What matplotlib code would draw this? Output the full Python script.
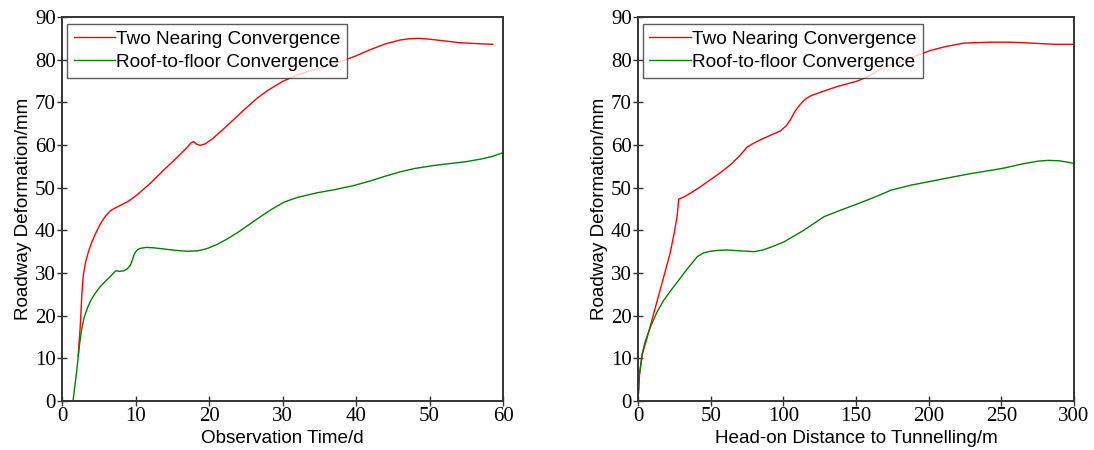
import matplotlib
matplotlib.use("Agg")
import matplotlib.pyplot as plt

# Left panel: observation time (d) vs deformation (mm)
t_two = [2.2, 2.5, 2.7, 2.9, 3.2, 3.6, 4.0, 4.5, 5.0, 5.5, 6.0, 6.6, 7.2, 8.0, 9.0, 10.0, 11.0,
         12.0, 13.0, 14.0, 15.0, 16.0, 17.0, 17.5, 17.9, 18.3, 18.8, 19.5, 20.5, 22.0, 23.5, 25.0,
         26.5, 28.0, 30.0, 32.0, 34.0, 36.0, 38.0, 40.0, 42.0, 44.0, 46.0, 47.2, 48.5, 50.0,
         52.0, 54.0, 56.0, 58.6]
d_two = [10.5, 18.0, 25.0, 29.5, 32.5, 35.0, 37.0, 39.0, 40.8, 42.3, 43.5, 44.6, 45.2, 45.9, 46.8, 48.0, 49.5,
         51.0, 52.7, 54.4, 56.0, 57.7, 59.4, 60.4, 60.8, 60.2, 59.9, 60.3, 61.5, 63.8, 66.2, 68.6,
         70.9, 72.8, 74.9, 76.4, 77.5, 78.5, 79.6, 80.9, 82.4, 83.7, 84.6, 84.9, 85.0, 84.8,
         84.4, 84.0, 83.8, 83.6]

t_roof = [1.5, 2.0, 2.4, 2.7, 3.0, 3.5, 4.0, 4.5, 5.2, 6.0, 6.7, 7.3, 7.8, 8.4, 8.9, 9.3, 9.6,
          9.8, 10.0, 10.3, 10.7, 11.5, 12.5, 14.0, 15.5, 17.0, 18.5, 19.7, 21.0, 22.5, 24.0,
          25.5, 27.0, 28.5, 30.2, 32.0, 34.7, 37.0, 39.7, 42.0, 44.0, 46.0, 48.0, 50.6, 53.0,
          55.0, 57.0, 58.5, 60.0]
d_roof = [0.0, 7.0, 13.5, 17.0, 19.5, 22.0, 23.8, 25.2, 26.8, 28.2, 29.4, 30.5, 30.4, 30.5, 31.0, 31.8, 33.2,
          34.3, 34.9, 35.5, 35.8, 36.0, 35.9, 35.6, 35.3, 35.1, 35.2, 35.7, 36.6, 38.0, 39.6,
          41.4, 43.2, 44.9, 46.6, 47.7, 48.8, 49.5, 50.5, 51.6, 52.7, 53.7, 54.5, 55.2, 55.7,
          56.1, 56.7, 57.3, 58.2]

# Right panel: head-on distance (m) vs deformation (mm)
x_two = [0.0, 1.0, 3.0, 6.0, 10.0, 14.0, 18.0, 22.0, 25.0, 27.0, 28.0, 32.0, 36.0, 42.0, 50.0,
         57.0, 64.0, 70.0, 75.0, 80.0, 86.0, 92.0, 98.0, 102.0, 105.0, 108.0, 111.8, 115.0,
         118.6, 125.0, 137.0, 151.0, 158.0, 164.8, 172.0, 183.0, 192.0, 201.6, 212.0, 224.6,
         243.0, 255.0, 264.0, 275.0, 287.0, 300.0]
y_two = [0.0, 6.0, 11.0, 14.5, 19.5, 24.5, 29.5, 34.5, 39.5, 43.5, 47.3, 47.9, 48.7, 50.0, 51.9,
         53.6, 55.5, 57.5, 59.5, 60.5, 61.5, 62.4, 63.3, 64.5, 66.0, 67.9, 69.6, 70.7,
         71.5, 72.3, 73.7, 75.0, 76.0, 77.4, 78.5, 79.8, 81.0, 82.2, 83.1, 83.9,
         84.1, 84.1, 84.0, 83.8, 83.6, 83.6]

x_roof = [0.0, 1.0, 2.8, 5.0, 8.5, 13.0, 17.7, 23.0, 28.0, 34.0, 40.7, 45.0, 50.0, 55.0, 61.0,
          70.0, 80.0, 86.0, 91.0, 100.5, 107.0, 114.0, 121.0, 128.0, 140.0, 151.0, 163.0,
          174.0, 188.0, 201.6, 215.0, 229.0, 240.0, 252.0, 265.0, 275.0, 282.0, 290.0, 300.0]
y_roof = [0.0, 6.3, 11.0, 14.0, 17.3, 20.8, 23.6, 26.1, 28.3, 31.0, 33.8, 34.7, 35.1, 35.3, 35.4,
          35.2, 35.0, 35.4, 36.0, 37.3, 38.6, 40.0, 41.6, 43.2, 44.8, 46.2, 47.8,
          49.4, 50.6, 51.5, 52.4, 53.3, 53.9, 54.6, 55.6, 56.2, 56.4, 56.3, 55.7]

series_labels = ["Two Nearing Convergence", "Roof-to-floor Convergence"]
y_ticks = [0, 10, 20, 30, 40, 50, 60, 70, 80, 90]

sans = "Liberation Sans"
serif = "Liberation Serif"
plt.rcParams["font.family"] = [serif, "DejaVu Serif"]

fig = plt.figure(figsize=(10.94, 4.5), dpi=100)
ax1 = fig.add_axes([62 / 1094, 1 - 401 / 450, 441 / 1094, 384 / 450])
ax2 = fig.add_axes([638 / 1094, 1 - 401 / 450, 436 / 1094, 384 / 450])

panels = [
    (ax1, t_two, d_two, t_roof, d_roof, (0, 60), [0, 10, 20, 30, 40, 50, 60], "Observation Time/d"),
    (ax2, x_two, y_two, x_roof, y_roof, (0, 300), [0, 50, 100, 150, 200, 250, 300],
     "Head-on Distance to Tunnelling/m"),
]

for ax, xa, ya, xb, yb, xlim, xt, xlabel in panels:
    ax.plot(xa, ya, color="#ff0000", lw=1.0, label=series_labels[0])
    ax.plot(xb, yb, color="#008000", lw=1.0, label=series_labels[1])
    ax.set_xlim(*xlim)
    ax.set_ylim(0, 90)
    ax.set_xticks(xt)
    ax.set_yticks(y_ticks)
    for s in ax.spines.values():
        s.set_linewidth(1.4)
        s.set_color("#333333")
    ax.tick_params(direction="inout", length=7, width=1.0, color="#333333",
                   labelsize=15, pad=1, labelfontfamily=serif)
    ax.set_xlabel(xlabel, fontsize=13.6, fontfamily=sans, labelpad=3)
    ax.set_ylabel("Roadway Deformation/mm", fontsize=13.6, fontfamily=sans, labelpad=2)
    leg = ax.legend(loc="upper left", bbox_to_anchor=(0.011, 0.982), borderaxespad=0,
                    prop={"family": sans, "size": 13.7}, frameon=True, fancybox=False,
                    handlelength=2.2, handletextpad=0.05, borderpad=0.35,
                    labelspacing=0.3)
    leg.get_frame().set_edgecolor("#333333")
    leg.get_frame().set_linewidth(1.0)

fig.savefig("out.png", dpi=100)
